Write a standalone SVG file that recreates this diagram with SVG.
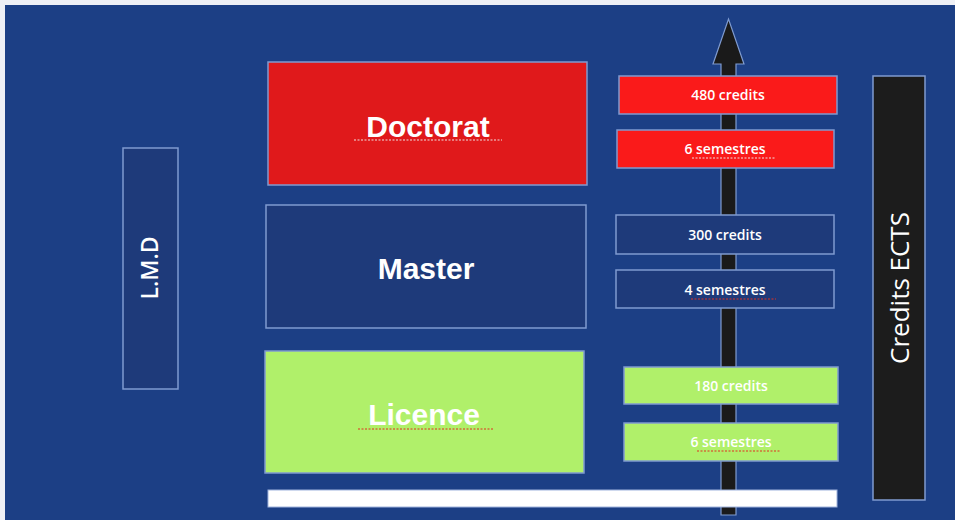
<svg xmlns="http://www.w3.org/2000/svg" width="955" height="520" viewBox="0 0 955 520">
<style>
.box{stroke:#7f9bd0;stroke-width:1.5}
.big{font-family:"Liberation Sans",Arial,sans-serif;font-weight:bold;font-size:30px;fill:#fff;text-anchor:middle}
.small{font-family:"Open Sans","Liberation Sans",sans-serif;font-size:14px;font-weight:600;fill:#fff;text-anchor:middle}
.side{font-family:"Open Sans","Liberation Sans",sans-serif;font-weight:600;fill:#fff;text-anchor:middle}
.sq{stroke:#e03020;stroke-width:1.2;stroke-dasharray:2 1.5;fill:none}
.sw{stroke:#f0e0e0;stroke-width:1.2;stroke-dasharray:2 1.5;fill:none}
</style>
<rect x="0" y="0" width="955" height="520" fill="#eef0f5"/>
<rect x="5" y="5" width="950" height="515" fill="#1c3f85"/>
<g id="connectors">
<path d="M721 515 V64 H713 L728.5 19 L744 64 H736 V515 Z" fill="#1a1a1a" stroke="#7f9bd0" stroke-width="1.2"/>
</g>
<g id="lmd">
<rect class="box" x="123" y="148" width="55" height="241" fill="#1e3a7a"/>
<text class="side" font-size="23" transform="translate(158 268) rotate(-90)">L.M.D</text>
</g>
<g id="doctorat">
<rect class="box" x="268" y="62" width="319" height="123" fill="#e0191b"/>
<text class="big" x="428" y="137">Doctorat</text>
<path class="sw" d="M354 140 H502"/>
</g>
<g id="master">
<rect class="box" x="266" y="205" width="320" height="123" fill="#1e3a7a"/>
<text class="big" x="426" y="279">Master</text>
</g>
<g id="licence">
<rect class="box" x="265" y="351" width="319" height="122" fill="#b0f06a"/>
<text class="big" x="424" y="425">Licence</text>
<path class="sq" d="M358 429 H494"/>
</g>
<g id="bar">
<rect x="268" y="490" width="569" height="17" fill="#ffffff" stroke="#9fb3dd" stroke-width="1"/>
</g>
<g id="c480">
<rect class="box" x="619" y="76" width="218" height="38" fill="#fa1a1a"/>
<text class="small" x="728" y="100">480 credits</text>
</g>
<g id="s6a">
<rect class="box" x="617" y="130" width="217" height="38" fill="#fa1a1a"/>
<text class="small" x="725" y="154">6 semestres</text>
<path class="sw" d="M692 158 H775"/>
</g>
<g id="c300">
<rect class="box" x="616" y="215" width="218" height="39" fill="#1e3a7a"/>
<text class="small" x="725" y="240">300 credits</text>
</g>
<g id="s4">
<rect class="box" x="616" y="270" width="218" height="38" fill="#1e3a7a"/>
<text class="small" x="725" y="295">4 semestres</text>
<path class="sq" d="M691 299 H776"/>
</g>
<g id="c180">
<rect class="box" x="624" y="367" width="214" height="37" fill="#b0f06a"/>
<text class="small" x="731" y="391">180 credits</text>
</g>
<g id="s6b">
<rect class="box" x="624" y="423" width="214" height="38" fill="#b0f06a"/>
<text class="small" x="731" y="447">6 semestres</text>
<path class="sq" d="M697 451 H781"/>
</g>
<g id="ects">
<rect class="box" x="873" y="76" width="52" height="424" fill="#1c1c1c"/>
<text class="side" font-size="26" font-weight="400" style="font-weight:400" transform="translate(909 288) rotate(-90)">Credits ECTS</text>
</g>
</svg>
